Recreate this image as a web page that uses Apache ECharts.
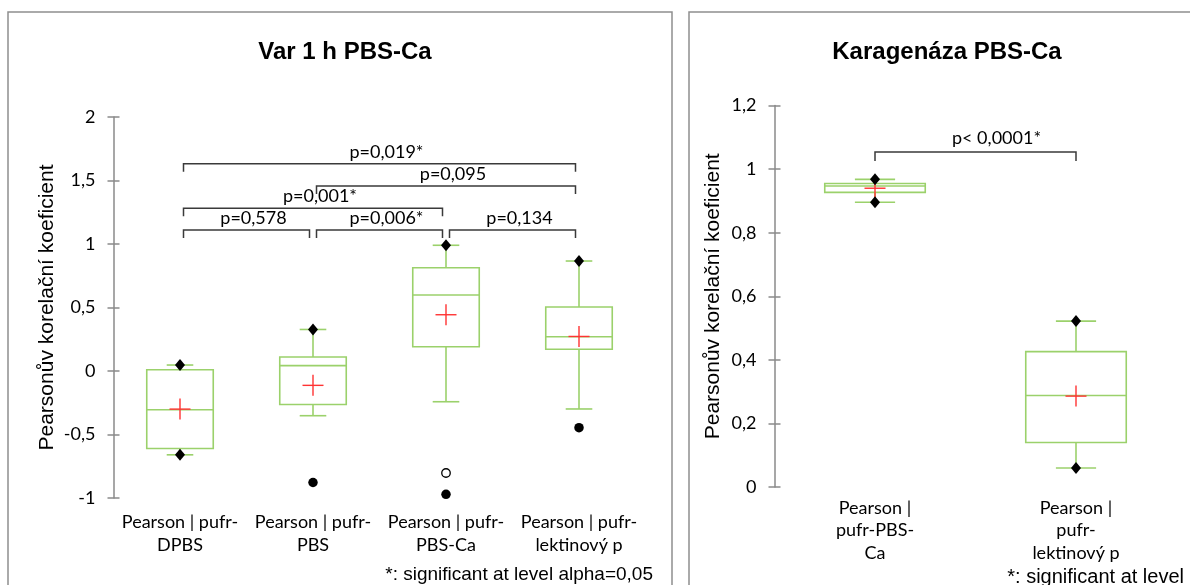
<!DOCTYPE html>
<html>
<head>
<meta charset="utf-8">
<title>Pearsonův korelační koeficient</title>
<script src="https://cdn.jsdelivr.net/npm/echarts@6/dist/echarts.min.js"></script>
<style>
  html, body { margin: 0; padding: 0; background: #ffffff; }
  #chart { width: 1190px; height: 585px; }
</style>
</head>
<body>
<div id="chart"></div>
<script>
// ---------- Panel A: Var 1 h PBS-Ca ----------
const titleA = 'Var 1 h PBS-Ca';
const categoriesA = ['Pearson | pufr-\nDPBS', 'Pearson | pufr-\nPBS', 'Pearson | pufr-\nPBS-Ca', 'Pearson | pufr-\nlektinový p'];
// [lower whisker, Q1, median, Q3, upper whisker]
const boxesA = [
  [-0.660, -0.610, -0.305, 0.010, 0.047],
  [-0.352, -0.264, 0.042, 0.110, 0.327],
  [-0.242, 0.191, 0.598, 0.813, 0.990],
  [-0.299, 0.171, 0.270, 0.504, 0.866]
];
const meansA = [-0.300, -0.113, 0.443, 0.272];
const minimaA = [-0.660, -0.878, -0.971, -0.446];
const maximaA = [0.047, 0.327, 0.990, 0.866];
const outliersA = [[2, -0.803]];
const bracketPairsA = [[0, 3], [1, 3], [0, 2], [0, 1], [1, 2], [2, 3]];
const bracketLabelsA = ['p=0,019*', 'p=0,095', 'p=0,001*', 'p=0,578', 'p=0,006*', 'p=0,134'];
const yTicksA = { min: -1, max: 2, interval: 0.5 };

// ---------- Panel B: Karagenáza PBS-Ca ----------
const titleB = 'Karagenáza PBS-Ca';
const categoriesB = ['Pearson |\npufr-PBS-\nCa', 'Pearson |\npufr-\nlektinový p'];
const boxesB = [
  [0.896, 0.927, 0.947, 0.955, 0.968],
  [0.060, 0.140, 0.288, 0.426, 0.522]
];
const meansB = [0.940, 0.286];
const minimaB = [0.896, 0.060];
const maximaB = [0.968, 0.522];
const bracketPairsB = [[0, 1]];
const bracketLabelsB = ['p< 0,0001*'];
const yTicksB = { min: 0, max: 1.2, interval: 0.2 };

const axisName = 'Pearsonův korelační koeficient';
const footnote = '*: significant at level alpha=0,05';
const footnoteShort = '*: significant at level';

// ---------- layout & style ----------
const GREEN = '#9bd16b';
const RED = '#ff3333';
const AXIS_GRAY = '#8a8a8a';
const FRAME_GRAY = '#8f8f8f';
const LINE_DARK = '#3a3a3a';
const NUM_FONT = 'Lato, "Open Sans", sans-serif';
const NUM_SIZE = 18;
const ARIAL = '"Liberation Sans", Arial, sans-serif';
const bracketLevelsA = [1.632, 1.457, 1.281, 1.110, 1.110, 1.110];
const bracketLevelsB = [1.054];

function fmt(v) { return (+v.toFixed(2)).toString().replace('.', ','); }

function boxRenderer(params, api) {
  const i = api.value(0);
  const c = (v) => api.coord([i, v]);
  const band = api.size([1, 0])[0];
  const half = band * 0.25, cap = band * 0.1;
  const lo = c(api.value(1)), q1 = c(api.value(2)), md = c(api.value(3)),
        q3 = c(api.value(4)), hi = c(api.value(5));
  const x = lo[0];
  const st = { stroke: GREEN, lineWidth: 1.6, fill: null };
  return {
    type: 'group',
    children: [
      { type: 'line', shape: { x1: x, y1: hi[1], x2: x, y2: q3[1] }, style: st },
      { type: 'line', shape: { x1: x, y1: q1[1], x2: x, y2: lo[1] }, style: st },
      { type: 'line', shape: { x1: x - cap, y1: hi[1], x2: x + cap, y2: hi[1] }, style: st },
      { type: 'line', shape: { x1: x - cap, y1: lo[1], x2: x + cap, y2: lo[1] }, style: st },
      { type: 'rect', shape: { x: x - half, y: q3[1], width: 2 * half, height: q1[1] - q3[1] },
        style: { stroke: GREEN, lineWidth: 1.6, fill: 'rgba(0,0,0,0)' } },
      { type: 'line', shape: { x1: x - half, y1: md[1], x2: x + half, y2: md[1] }, style: st }
    ]
  };
}

function meanRenderer(params, api) {
  const p = api.coord([api.value(0), api.value(1)]);
  const s = 10.5;
  const st = { stroke: RED, lineWidth: 1.4 };
  return {
    type: 'group',
    children: [
      { type: 'line', shape: { x1: p[0] - s, y1: p[1], x2: p[0] + s, y2: p[1] }, style: st },
      { type: 'line', shape: { x1: p[0], y1: p[1] - s, x2: p[0], y2: p[1] + s }, style: st }
    ]
  };
}

function bracketRenderer(labels, inset, drop, textDx, textDy) {
  return function (params, api) {
    const a = api.coord([api.value(0), api.value(2)]);
    const b = api.coord([api.value(1), api.value(2)]);
    const x1 = a[0] + inset, x2 = b[0] - inset, y = a[1];
    return {
      type: 'group',
      children: [
        { type: 'polyline', shape: { points: [[x1, y + drop], [x1, y], [x2, y], [x2, y + drop]] },
          style: { stroke: LINE_DARK, lineWidth: 1.5, fill: null } },
        { type: 'text', style: { text: labels[params.dataIndex], x: (x1 + x2) / 2 + textDx, y: y - textDy,
          align: 'center', verticalAlign: 'middle', fontFamily: NUM_FONT, fontSize: NUM_SIZE, fill: '#000' } }
      ]
    };
  };
}

function extremeMarks(boxes, minima, maxima) {
  const diamonds = [], dots = [];
  boxes.forEach((b, i) => {
    (minima[i] < b[0] ? dots : diamonds).push([i, minima[i]]);
    (maxima[i] > b[4] ? dots : diamonds).push([i, maxima[i]]);
  });
  return { diamonds, dots };
}

function valueAxes(gridIndex, ticks, nameGap) {
  return [
    {
      type: 'value', gridIndex, position: 'left', min: ticks.min, max: ticks.max, interval: ticks.interval,
      name: axisName, nameLocation: 'middle', nameRotate: 90, nameGap,
      nameTextStyle: { fontFamily: ARIAL, fontSize: 21, color: '#000' },
      axisLine: { show: true, lineStyle: { color: AXIS_GRAY, width: 1.5 } },
      axisTick: { show: true, length: 6, lineStyle: { color: AXIS_GRAY, width: 1.5 } },
      axisLabel: { margin: 18, fontFamily: NUM_FONT, fontSize: NUM_SIZE, color: '#000', formatter: fmt },
      splitLine: { show: false }
    },
    {
      type: 'value', gridIndex, position: 'left', min: ticks.min, max: ticks.max, interval: ticks.interval,
      axisLine: { show: false },
      axisTick: { show: true, inside: true, length: 6, lineStyle: { color: AXIS_GRAY, width: 1.5 } },
      axisLabel: { show: false },
      splitLine: { show: false }
    }
  ];
}

function categoryAxis(gridIndex, cats, margin) {
  return {
    type: 'category', gridIndex, data: cats, boundaryGap: true,
    axisLine: { show: false }, axisTick: { show: false }, splitLine: { show: false },
    axisLabel: { interval: 0, margin, fontFamily: NUM_FONT, fontSize: NUM_SIZE, lineHeight: 22.5, color: '#000', align: 'center' }
  };
}

function panelSeries(xi, yi, boxes, means, minima, maxima, outliers, pairs, labels, levels, br) {
  const marks = extremeMarks(boxes, minima, maxima);
  return [
    { type: 'custom', xAxisIndex: xi, yAxisIndex: yi, renderItem: boxRenderer, z: 2,
      encode: { x: 0, y: [1, 2, 3, 4, 5] }, data: boxes.map((b, i) => [i].concat(b)) },
    { type: 'custom', xAxisIndex: xi, yAxisIndex: yi, renderItem: meanRenderer, z: 3,
      encode: { x: 0, y: 1 }, data: means.map((m, i) => [i, m]) },
    { type: 'custom', xAxisIndex: xi, yAxisIndex: yi, z: 3,
      renderItem: bracketRenderer(labels, br.inset, br.drop, br.dx, br.dy),
      encode: { x: [0, 1], y: 2 }, data: pairs.map((p, k) => [p[0], p[1], levels[k]]) },
    { type: 'scatter', xAxisIndex: xi, yAxisIndex: yi, symbol: 'diamond', symbolSize: [10, 12], z: 4,
      itemStyle: { color: '#000', opacity: 1 }, data: marks.diamonds, silent: true },
    { type: 'scatter', xAxisIndex: xi, yAxisIndex: yi, symbol: 'circle', symbolSize: 9.5, z: 4,
      itemStyle: { color: '#000', opacity: 1 }, data: marks.dots, silent: true },
    { type: 'scatter', xAxisIndex: xi, yAxisIndex: yi, symbol: 'circle', symbolSize: 8.5, z: 4,
      itemStyle: { color: '#fff', borderColor: '#000', borderWidth: 1.3, opacity: 1 }, data: outliers, silent: true }
  ];
}

const chart = echarts.init(document.getElementById('chart'), null, { renderer: 'canvas' });

chart.setOption({
  animation: false,
  backgroundColor: '#ffffff',
  title: [
    { text: titleA, left: 340, top: 47, textAlign: 'center', textVerticalAlign: 'middle',
      textStyle: { fontFamily: ARIAL, fontSize: 24, fontWeight: 'bold', color: '#000' } },
    { text: titleB, left: 942, top: 47, textAlign: 'center', textVerticalAlign: 'middle',
      textStyle: { fontFamily: ARIAL, fontSize: 24, fontWeight: 'bold', color: '#000' } }
  ],
  grid: [
    { left: 113.5, top: 117, width: 532, height: 381 },
    { left: 774.5, top: 105.6, width: 402, height: 381.4 }
  ],
  xAxis: [categoryAxis(0, categoriesA, 13), categoryAxis(1, categoriesB, 9.5)],
  yAxis: valueAxes(0, yTicksA, 56).concat(valueAxes(1, yTicksB, 51)),
  series: []
    .concat(panelSeries(0, 0, boxesA, meansA, minimaA, maximaA, outliersA,
      bracketPairsA, bracketLabelsA, bracketLevelsA, { inset: 3.5, drop: 8, dx: 7, dy: 12 }))
    .concat(panelSeries(1, 2, boxesB, meansB, minimaB, maximaB, [],
      bracketPairsB, bracketLabelsB, bracketLevelsB, { inset: 0, drop: 9, dx: 21, dy: 13.7 })),
  graphic: [
    { type: 'rect', silent: true, shape: { x: 8, y: 12, width: 664, height: 620 },
      style: { fill: null, stroke: FRAME_GRAY, lineWidth: 1.5 } },
    { type: 'rect', silent: true, shape: { x: 689, y: 12, width: 620, height: 620 },
      style: { fill: null, stroke: FRAME_GRAY, lineWidth: 1.5 } },
    { type: 'text', silent: true, x: 653, y: 575,
      style: { text: footnote, align: 'right', verticalAlign: 'middle', fontFamily: ARIAL, fontSize: 19, fill: '#000' } },
    { type: 'text', silent: true, x: 1184, y: 577,
      style: { text: footnoteShort, align: 'right', verticalAlign: 'middle', fontFamily: ARIAL, fontSize: 20, fill: '#000' } }
  ]
});
</script>
</body>
</html>
